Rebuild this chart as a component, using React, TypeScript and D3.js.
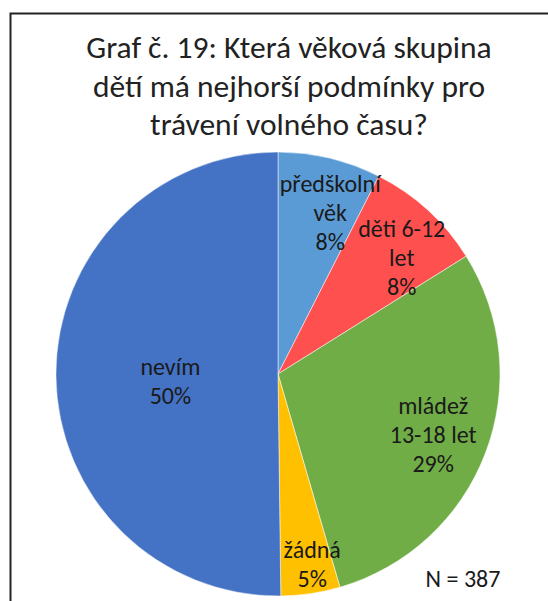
import React from "react";
import * as d3 from "d3";

const categories = ["předškolní věk", "děti 6-12 let", "mládež 13-18 let", "žádná", "nevím"];
const labelLines = [["předškolní", "věk"], ["děti 6-12", "let"], ["mládež", "13-18 let"], ["žádná"], ["nevím"]];
const values = [7.5, 8.6, 29.4, 4.3, 50.2];
const pctLabels = ["8%", "8%", "29%", "5%", "50%"];
const colors = ["#5B9BD5", "#FF5050", "#70AD47", "#FFC000", "#4472C4"];
const titleLines = ["Graf č. 19: Která věková skupina", "dětí má nejhorší podmínky pro", "trávení volného času?"];
const noteText = "N = 387";

// layout: label radius (fraction of R) and angular shift (deg) from slice mid-angle
const labelRadius = [0.73, 0.74, 0.765, 0.909, 0.49];
const labelShift = [5.3, 6.4, 3.1, -1.3, -8];

const W = 548;
const H = 601;
const cx = 278;
const cy = 374;
const R = 222;
const FONT = "Calibri, Carlito, 'Open Sans', sans-serif";

export default function App() {
  const pie = d3.pie<number>().sort(null).value((d) => d);
  const arcs = pie(values);
  const arc = d3.arc<d3.PieArcDatum<number>>().innerRadius(0).outerRadius(R);
  const lineH = 29;
  return (
    <div style={{ position: "absolute", left: 0, top: 0 }}>
      <svg width={W} height={H} style={{ display: "block" }}>
        <rect x={0} y={0} width={W} height={H} fill="#fff" />
        <rect x={10.5} y={13.5} width={W + 20} height={H + 20} fill="none" stroke="#222" strokeWidth={2} />
        <text textAnchor="middle" fontFamily={FONT} fontSize={31.5} fill="#222">
          {titleLines.map((t, i) => (
            <tspan key={i} x={289} y={58 + i * 38.5}>{t}</tspan>
          ))}
        </text>
        <g transform={`translate(${cx},${cy})`}>
          {arcs.map((a, i) => (
            <path key={categories[i]} d={arc(a) || ""} fill={colors[i]} stroke="#fff" strokeWidth={0.5} />
          ))}
          {arcs.map((a, i) => {
            const mid = (a.startAngle + a.endAngle) / 2 + (labelShift[i] * Math.PI) / 180;
            const r = R * labelRadius[i];
            const lx = r * Math.sin(mid);
            const ly = -r * Math.cos(mid);
            const lines = [...labelLines[i], pctLabels[i]];
            const y0 = ly - ((lines.length - 1) * lineH) / 2;
            return (
              <text key={"l" + i} textAnchor="middle" fontFamily={FONT} fontSize={24} fill="#1a1a1a">
                {lines.map((t, j) => (
                  <tspan key={j} x={lx} y={y0 + j * lineH}>{t}</tspan>
                ))}
              </text>
            );
          })}
        </g>
        <text x={463} y={587} textAnchor="middle" fontFamily={FONT} fontSize={24} fill="#1a1a1a">{noteText}</text>
      </svg>
    </div>
  );
}
